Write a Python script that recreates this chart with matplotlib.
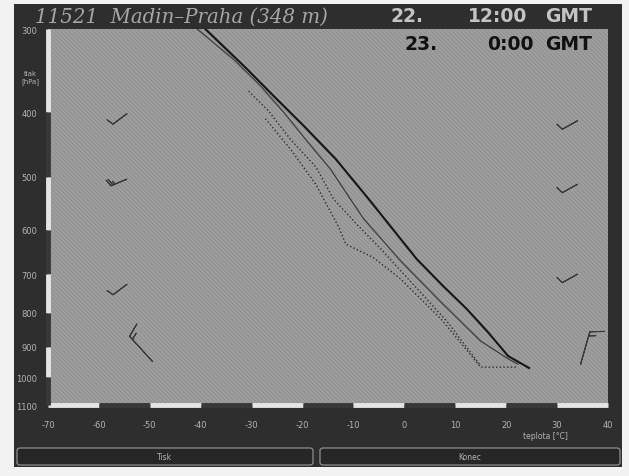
import numpy as np
import matplotlib
matplotlib.use('Agg')
import matplotlib.pyplot as plt
from matplotlib.patches import Rectangle, FancyBboxPatch

# sondaz 22. 12:00 GMT (tenci cary)
pres_12 = [300, 333, 365, 400, 443, 487, 540, 578, 669, 771, 882, 938, 955]
temp_12 = [-40.7, -33.6, -28.3, -23.7, -19.0, -14.5, -10.6, -8.0, -0.7, 7.2, 15.0, 20.4, 22.3]
dew_pres_12 = [409, 454, 513, 595, 631, 660, 712, 817, 965, 965]
dew_12 = [-27.3, -22.4, -17.4, -12.9, -11.5, -6.2, -0.7, 7.2, 15.0, 22.3]

# sondaz 23. 0:00 GMT (tmava cara)
pres_00 = [300, 344, 378, 419, 470, 540, 573, 664, 729, 790, 855, 929, 968]
temp_00 = [-39.1, -31.0, -25.7, -19.8, -13.5, -7.0, -4.3, 2.4, 7.6, 12.3, 16.4, 20.4, 24.5]
dew_pres_00 = [372, 398, 439, 483, 540, 593, 637, 719, 826, 961]
dew_00 = [-30.6, -26.7, -22.4, -17.4, -13.9, -9.0, -5.0, 1.3, 8.5, 15.0]

# vitr [kt], levy sloupec 12:00, pravy 0:00
wind_pres_12 = [402, 504, 725]
wind_u_12 = [8, 24, 8]
wind_v_12 = [6, 10, 6]
wind_low_pres_12 = [945]
wind_low_u_12 = [10]
wind_low_v_12 = [-11]

wind_pres_00 = [412, 513, 700]
wind_u_00 = [9, 9, 9]
wind_v_00 = [5, 5, 5]
wind_low_pres_00 = [955]
wind_low_u_00 = [-4]
wind_low_v_00 = [-14]

x_ticks = [-70, -60, -50, -40, -30, -20, -10, 0, 10, 20, 30, 40]
p_ticks = [300, 400, 500, 600, 700, 800, 900, 1000, 1100]

frame = '#2e2e2e'
light = '#b4b4b4'

plt.rcParams['hatch.color'] = '#8c8c8c'
plt.rcParams['hatch.linewidth'] = 0.6

fig = plt.figure(figsize=(6.29, 4.77), dpi=100)
fig.patch.set_facecolor('#f2f2f2')
W, H = 629.0, 477.0

# tmavy ramecek okna
fig.patches.append(Rectangle((14 / W, 1 - 468 / H), 608 / W, 463 / H,
                             transform=fig.transFigure, facecolor=frame,
                             edgecolor='none', zorder=0))

ax = fig.add_axes([48 / W, 1 - 406 / H, 560 / W, 376 / H])
ax.set_zorder(2)
ax.set_facecolor('#9f9f9f')
ax.add_patch(Rectangle((0, 0), 1, 1, transform=ax.transAxes, facecolor='#9f9f9f',
                       hatch='\\' * 8, lw=0, zorder=0))
ax.set_yscale('log')
ax.set_xlim(-70, 40)
ax.set_ylim(1100, 300)
for s in ax.spines.values():
    s.set_visible(False)

ax.set_xticks(x_ticks)
ax.set_xticklabels([str(t) for t in x_ticks])
ax.set_yticks(p_ticks)
ax.set_yticklabels([str(p) for p in p_ticks])
ax.yaxis.set_minor_locator(matplotlib.ticker.NullLocator())
ax.tick_params(length=0, colors=light, labelsize=6)
ax.tick_params(axis='x', pad=11)
ax.tick_params(axis='y', pad=8)

# stridave useky na osach
for i in range(len(x_ticks) - 1):
    c = '#e4e4e4' if i % 2 == 0 else '#383838'
    ax.plot(x_ticks[i:i + 2], [1100, 1100], color=c, lw=3.5,
            solid_capstyle='butt', clip_on=False, zorder=5)
for i in range(len(p_ticks) - 1):
    c = '#e4e4e4' if i % 2 == 0 else '#383838'
    ax.plot([-70, -70], p_ticks[i:i + 2], color=c, lw=3.5,
            solid_capstyle='butt', clip_on=False, zorder=5)

# krivky
ax.plot(temp_12, pres_12, color='#3c3c3c', lw=0.9, zorder=3)
ax.plot(dew_12, dew_pres_12, color='#2c2c2c', lw=1.0, ls=':', zorder=3)
ax.plot(temp_00, pres_00, color='#161616', lw=1.5, zorder=4)
ax.plot(dew_00, dew_pres_00, color='#2c2c2c', lw=1.0, ls=':', zorder=3)

# vitr
ax.barbs([-54.5] * len(wind_pres_12), wind_pres_12, wind_u_12, wind_v_12,
         length=5, color='#3a3a3a', linewidth=0.8, zorder=3)
ax.barbs([-49.5] * len(wind_low_pres_12), wind_low_pres_12, wind_low_u_12, wind_low_v_12,
         length=7, color='#3a3a3a', linewidth=0.8, zorder=3)
ax.barbs([34] * len(wind_pres_00), wind_pres_00, wind_u_00, wind_v_00,
         length=5, color='#3a3a3a', linewidth=0.8, zorder=3)
ax.barbs([34.5] * len(wind_low_pres_00), wind_low_pres_00, wind_low_u_00, wind_low_v_00,
         length=7, color='#3a3a3a', linewidth=0.8, zorder=3)

# texty
fig.text(35 / W, 1 - 17 / H, '11521  Madin\u2013Praha (348 m)', family='DejaVu Serif',
         style='italic', fontsize=14.2, color='#a6a6a6', va='center')
for x, s in [(390, '22.'), (468, '12:00'), (545, 'GMT')]:
    fig.text(x / W, 1 - 17 / H, s, family='DejaVu Sans', weight='bold',
             fontsize=13.5, color='#c4c4c4', va='center')
for x, s in [(405, '23.'), (487, '0:00'), (545, 'GMT')]:
    fig.text(x / W, 1 - 45 / H, s, family='DejaVu Sans', weight='bold',
             fontsize=13.5, color='#111111', va='center', zorder=5)

fig.text(30 / W, 1 - 78 / H, 'tlak\n[hPa]', fontsize=5, color=light,
         ha='center', va='center', linespacing=1.1)
fig.text(545 / W, 1 - 437 / H, 'teplota [\u00b0C]', fontsize=5.5, color=light,
         ha='center', va='center')

# tlacitka
for x0, x1, lab in [(17, 313, 'Tisk'), (320, 620, 'Konec')]:
    fig.patches.append(FancyBboxPatch((x0 / W, 1 - 466 / H), (x1 - x0) / W, 17 / H,
                                      boxstyle='round,pad=0,rounding_size=0.005',
                                      transform=fig.transFigure, facecolor='#262626',
                                      edgecolor='#9a9a9a', lw=0.8, zorder=1))
    fig.text((x0 + x1) / 2 / W, 1 - 457.5 / H, lab, fontsize=5.5, color=light,
             ha='center', va='center')

fig.savefig('out.png', dpi=100, facecolor=fig.get_facecolor())
